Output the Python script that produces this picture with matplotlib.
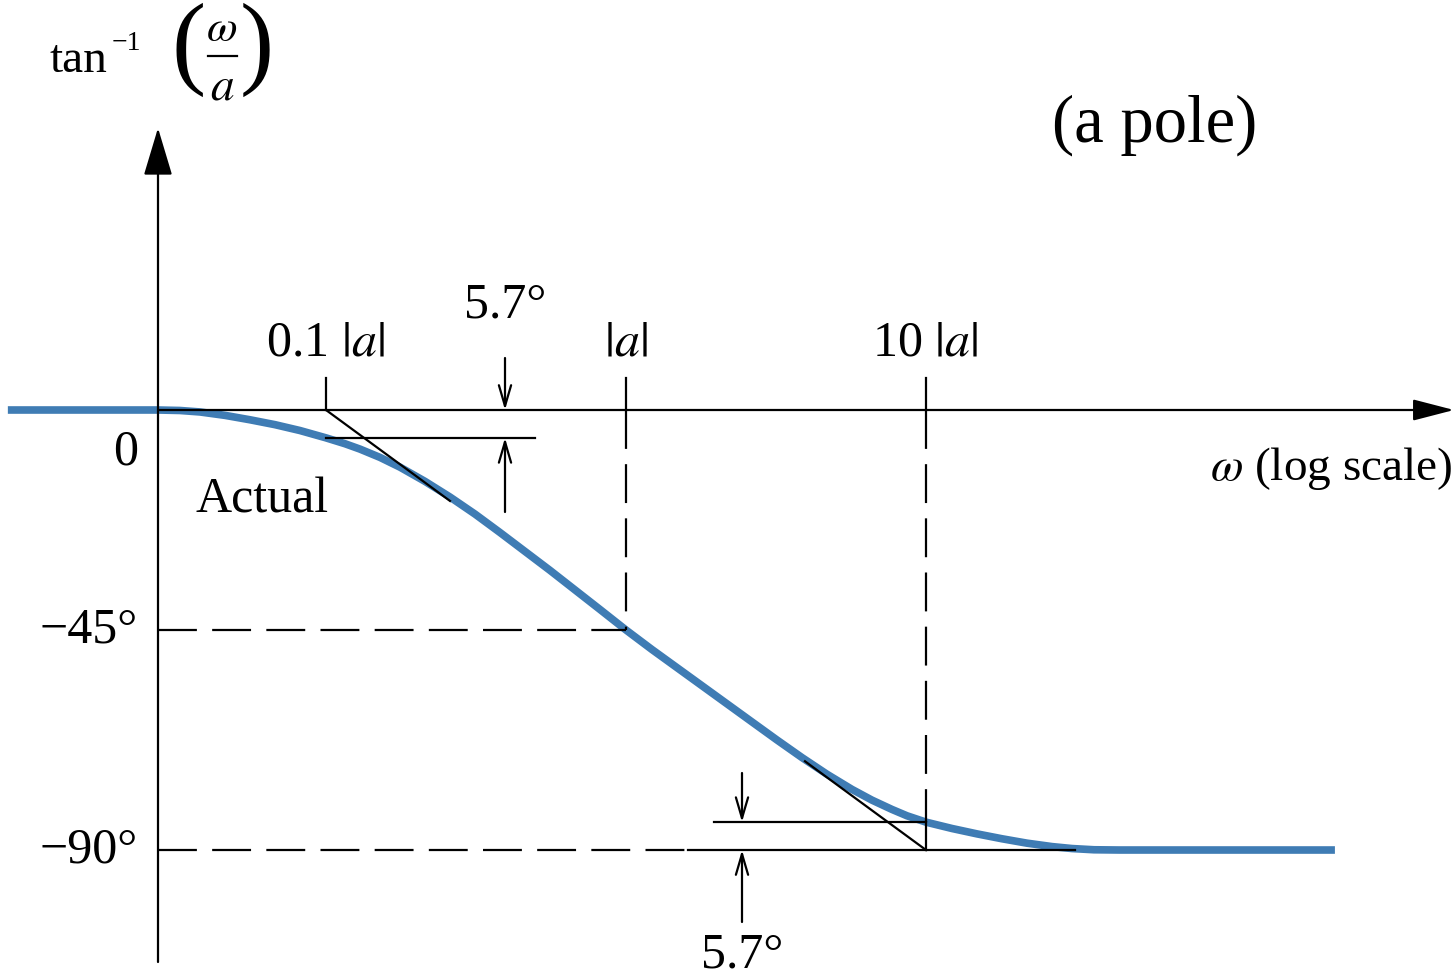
import matplotlib
matplotlib.use("Agg")
import matplotlib.pyplot as plt
import numpy as np

plt.rcParams['font.family'] = ['Liberation Serif', 'DejaVu Serif']
plt.rcParams['mathtext.fontset'] = 'stix'
plt.rcParams['lines.scale_dashes'] = False

# Actual phase curve of a single pole, omega in units of |a|, phase in degrees
omega_actual = [0.0087, 0.0275, 0.0326, 0.038, 0.0461, 0.0558, 0.0676, 0.0819,
                0.1, 0.1157, 0.1298, 0.1514, 0.1765, 0.2138, 0.259, 0.314, 0.38,
                0.558, 0.819, 1.0, 1.221, 1.792, 2.63, 3.187, 3.862, 4.677,
                5.666, 6.607, 7.701, 8.643, 10.0, 12.21, 14.79, 17.92, 21.71,
                26.3, 30.67, 36.31, 44.0, 230.7]
phase_actual = [0, 0, -0.1, -0.4, -1.1, -2.0, -3.0, -4.2,
                -5.7, -6.9, -8.0, -9.7, -11.7, -14.6, -17.8, -21.3, -25.05,
                -32.8, -40.8, -45.0, -49.0, -56.4, -63.8, -67.5, -71.1, -74.5,
                -77.6, -79.8, -81.7, -83.0, -84.3, -85.6, -86.7, -87.7, -88.6,
                -89.3, -89.7, -89.95, -90.0, -90.0]

# Break frequencies and reference phases
corner_freqs = [0.1, 1.0, 10.0]
corner_labels = [r'0.1 $|a|$', r'$|a|$', r'10 $|a|$']
phase_ticks = [0, -45, -90]
phase_tick_labels = ['0', '\u221245\u00b0', '\u221290\u00b0']
error_deg = 5.7

BLUE = '#3f7cb4'
LW = 1.6
DASH = (0, (28, 11))


def px_x(px):
    # horizontal pixel -> omega/|a|, one decade is 300 px and 0.1|a| sits at 326 px
    return 10 ** (-1 + (px - 326) / 300.0)


def px_y(py):
    # vertical pixel -> degrees, 0 deg at 410 px and 4.889 px per degree
    return -(py - 410) / 4.889


fig = plt.figure(figsize=(14.56, 9.77), dpi=100)
ax = fig.add_axes([0, 0, 1, 1])
ax.set_xscale('log')
ax.set_xlim(px_x(0), px_x(1456))
ax.set_ylim(px_y(977), px_y(0))
ax.axis('off')

w_axis = px_x(158)

# axes with arrow heads
ax.annotate('', xy=(px_x(1454), 0), xytext=(w_axis, 0),
            arrowprops=dict(arrowstyle='-|>,head_length=0.85,head_width=0.22',
                            mutation_scale=30, lw=LW, color='black',
                            shrinkA=0, shrinkB=0), zorder=4)
ax.annotate('', xy=(w_axis, px_y(128)), xytext=(w_axis, px_y(962)),
            arrowprops=dict(arrowstyle='-|>,head_length=1.0,head_width=0.3',
                            mutation_scale=30, lw=LW, color='black',
                            shrinkA=0, shrinkB=0), zorder=4)

# actual curve
ax.plot(omega_actual, phase_actual, color=BLUE, lw=5.5, solid_capstyle='butt',
        solid_joinstyle='round', zorder=2)

# ticks above the frequency axis
tick_top = px_y(378)
for f in corner_freqs:
    ax.plot([f, f], [tick_top, 0], color='black', lw=LW, zorder=3)

# dashed guides at -45 and -90
ax.plot([w_axis, corner_freqs[1]], [-45, -45], color='black', lw=LW, ls=DASH, zorder=3)
ax.plot([corner_freqs[1], corner_freqs[1]], [0, -45], color='black', lw=LW, ls=DASH, zorder=3)
ax.plot([w_axis, px_x(688)], [-90, -90], color='black', lw=LW, ls=DASH, zorder=3)
ax.plot([px_x(688), px_x(1075)], [-90, -90], color='black', lw=LW, zorder=3)
ax.plot([corner_freqs[2], corner_freqs[2]], [0, -90 + error_deg], color='black',
        lw=LW, ls=DASH, zorder=3)
ax.plot([corner_freqs[2], corner_freqs[2]], [-90 + error_deg, -90], color='black',
        lw=LW, zorder=3)

# straight line asymptote pieces, -45 deg per decade
asym_w1 = [corner_freqs[0], px_x(450)]
asym_w2 = [px_x(805), corner_freqs[2]]
ax.plot(asym_w1, [-45 * np.log10(w / 0.1) for w in asym_w1], color='black', lw=LW, zorder=3)
ax.plot(asym_w2, [-45 * np.log10(w / 0.1) for w in asym_w2], color='black', lw=LW, zorder=3)

# 5.7 degree error markers
ax.plot([corner_freqs[0], px_x(535)], [-error_deg, -error_deg], color='black', lw=LW, zorder=3)
ax.plot([px_x(714), corner_freqs[2]], [-90 + error_deg, -90 + error_deg], color='black',
        lw=LW, zorder=3)

arrow_kw = dict(arrowstyle='->,head_length=0.75,head_width=0.22', mutation_scale=20,
                lw=LW, color='black', shrinkA=0, shrinkB=0)
w_top = px_x(505)
ax.annotate('', xy=(w_top, 0), xytext=(w_top, px_y(358)), arrowprops=arrow_kw)
ax.annotate('', xy=(w_top, -error_deg), xytext=(w_top, px_y(512)), arrowprops=arrow_kw)
w_bot = px_x(742)
ax.annotate('', xy=(w_bot, -90 + error_deg), xytext=(w_bot, px_y(773)), arrowprops=arrow_kw)
ax.annotate('', xy=(w_bot, -90), xytext=(w_bot, px_y(922)), arrowprops=arrow_kw)

fs = 36
ax.text(w_top, px_y(305), '5.7\u00b0', fontsize=fs, ha='center', va='center')
ax.text(w_bot, px_y(932), '5.7\u00b0', fontsize=fs, ha='center', va='top')

# labels of the break frequencies
for f, lab in zip(corner_freqs, corner_labels):
    ax.text(f * 0.995, px_y(343), lab, fontsize=fs, ha='center', va='center')

# phase labels on the vertical axis
ax.text(px_x(138), px_y(452), phase_tick_labels[0], fontsize=fs, ha='right', va='center')
for p, lab in zip(phase_ticks[1:], phase_tick_labels[1:]):
    ax.text(px_x(138), p, lab, fontsize=fs, ha='right', va='center')

ax.text(px_x(262), px_y(500), 'Actual', fontsize=fs, ha='center', va='center')
ax.text(px_x(1452), px_y(468), r'$\omega$ (log scale)', fontsize=34, ha='right', va='center')
ax.text(px_x(1155), px_y(125), '(a pole)', fontsize=48, ha='center', va='center')

# y axis title: tan^-1 (omega / a), built from pieces so the parentheses stay tall
ax.text(px_x(50), px_y(72), 'tan', fontsize=34, ha='left', va='baseline')
ax.text(px_x(112), px_y(50), '\u22121', fontsize=20, ha='left', va='baseline')
ax.text(px_x(189), px_y(50), '(', fontsize=74, ha='center', va='center')
ax.text(px_x(257), px_y(50), ')', fontsize=74, ha='center', va='center')
ax.text(px_x(222), px_y(30), r'$\omega$', fontsize=32, ha='center', va='center')
ax.text(px_x(222), px_y(88), r'$a$', fontsize=34, ha='center', va='center')
ax.plot([px_x(208), px_x(237)], [px_y(56), px_y(56)], color='black', lw=1.6)

fig.savefig('out.png', dpi=100, facecolor='white')
